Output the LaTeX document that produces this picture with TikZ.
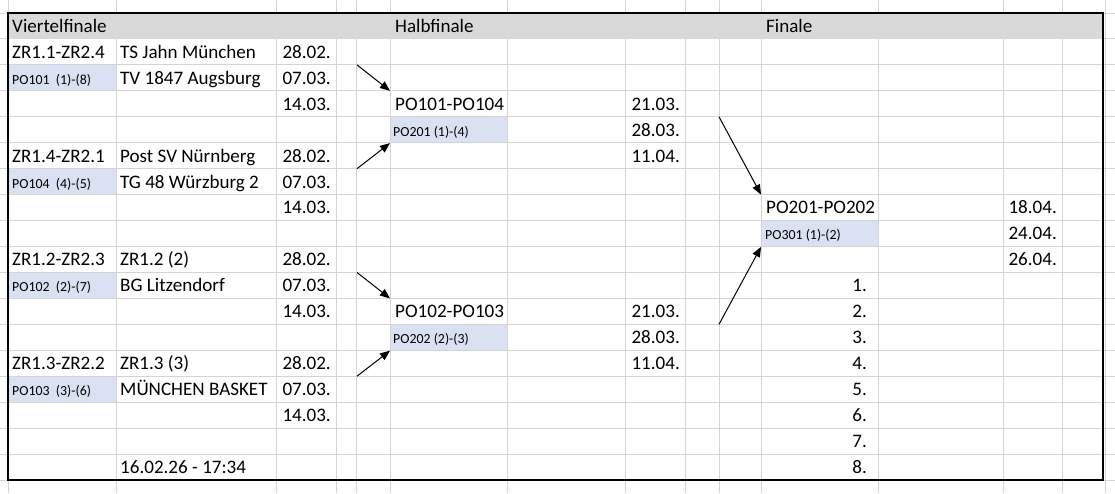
\documentclass[tikz,border=0pt]{standalone}
\usepackage{fontspec}
\setmainfont{Carlito}
\usetikzlibrary{arrows.meta}
\definecolor{gridc}{RGB}{212,212,212}
\definecolor{headc}{RGB}{217,217,217}
\definecolor{bluec}{RGB}{217,225,242}
\newcommand\rtop[1]{13+25.944*(#1)}
\newcommand\rbase[1]{13+25.944*(#1+1)-6.6}
\tikzset{
  gridline/.style={draw=gridc, line width=1pt},
  txt/.style={anchor=base west, inner sep=0pt, font=\fontsize{19.07}{22}\selectfont},
  smalltxt/.style={anchor=base west, inner sep=0pt, font=\fontsize{13.87}{16}\selectfont},
  datetxt/.style={anchor=base east, inner sep=0pt, font=\fontsize{19.07}{22}\selectfont},
  blk/.style={draw=none, inner sep=0pt, anchor=north west},
  link/.style={draw=black, line width=1pt, -{Triangle[length=10pt,width=8pt]}},
}
\begin{document}
\begin{tikzpicture}[x=1pt,y=-1pt]
\useasboundingbox (0,0) rectangle (1115,493);
\fill[white] (0,0) rectangle (1115,493);
% blue cells
\foreach \k in {2,6,10,14}{\fill[bluec] (8,{\rtop{\k}}) rectangle (116,{\rtop{\k+1}});}
\foreach \k in {4,12}{\fill[bluec] (390,{\rtop{\k}}) rectangle (507,{\rtop{\k+1}});}
\fill[bluec] (761,{\rtop{8}}) rectangle (878,{\rtop{9}});
% gridlines
\foreach \x in {8,116,276,336,356,390,507,625,685,719,761,878,1003,1062,1105}{\draw[gridline] (\x,0) -- (\x,493);}
\foreach \k in {0,...,18}{\draw[gridline] (0,{\rtop{\k}}) -- (1115,{\rtop{\k}});}
% header
\fill[headc] (8,13) rectangle (1103,{\rtop{1}});
% border
\draw[black, line width=2.2pt] (8,13) rectangle (1103,480);
% header texts
\node[txt] (hv) at (12,{\rbase{0}}) {Viertelfinale};
\node[txt] (hh) at (395,{\rbase{0}}) {Halbfinale};
\node[txt] (hf) at (766,{\rbase{0}}) {Finale};
% quarterfinals
\node[txt] (a1) at (12,{\rbase{1}}) {ZR1.1-ZR2.4};
\node[txt] (b1) at (120,{\rbase{1}}) {TS Jahn München};
\node[datetxt] (c1) at (331,{\rbase{1}}) {28.02.};
\node[smalltxt] (a2) at (12,{\rbase{2}}) {PO101\ \ (1)-(8)};
\node[txt] (b2) at (120,{\rbase{2}}) {TV 1847 Augsburg};
\node[datetxt] (c2) at (331,{\rbase{2}}) {07.03.};
\node[datetxt] (c3) at (331,{\rbase{3}}) {14.03.};
\node[txt] (a5) at (12,{\rbase{5}}) {ZR1.4-ZR2.1};
\node[txt] (b5) at (120,{\rbase{5}}) {Post SV Nürnberg};
\node[datetxt] (c5) at (331,{\rbase{5}}) {28.02.};
\node[smalltxt] (a6) at (12,{\rbase{6}}) {PO104\ \ (4)-(5)};
\node[txt] (b6) at (120,{\rbase{6}}) {TG 48 Würzburg 2};
\node[datetxt] (c6) at (331,{\rbase{6}}) {07.03.};
\node[datetxt] (c7) at (331,{\rbase{7}}) {14.03.};
\node[txt] (a9) at (12,{\rbase{9}}) {ZR1.2-ZR2.3};
\node[txt] (b9) at (120,{\rbase{9}}) {ZR1.2 (2)};
\node[datetxt] (c9) at (331,{\rbase{9}}) {28.02.};
\node[smalltxt] (a10) at (12,{\rbase{10}}) {PO102\ \ (2)-(7)};
\node[txt] (b10) at (120,{\rbase{10}}) {BG Litzendorf};
\node[datetxt] (c10) at (331,{\rbase{10}}) {07.03.};
\node[datetxt] (c11) at (331,{\rbase{11}}) {14.03.};
\node[txt] (a13) at (12,{\rbase{13}}) {ZR1.3-ZR2.2};
\node[txt] (b13) at (120,{\rbase{13}}) {ZR1.3 (3)};
\node[datetxt] (c13) at (331,{\rbase{13}}) {28.02.};
\node[smalltxt] (a14) at (12,{\rbase{14}}) {PO103\ \ (3)-(6)};
\node[txt] (b14) at (120,{\rbase{14}}) {MÜNCHEN BASKET};
\node[datetxt] (c14) at (331,{\rbase{14}}) {07.03.};
\node[datetxt] (c15) at (331,{\rbase{15}}) {14.03.};
\node[txt] (b17) at (120,{\rbase{17}}) {16.02.26 - 17:34};
% semifinals
\node[txt] (h3) at (395,{\rbase{3}}) {PO101-PO104};
\node[smalltxt] (h4) at (393,{\rbase{4}}) {PO201 (1)-(4)};
\node[datetxt] (hd3) at (680,{\rbase{3}}) {21.03.};
\node[datetxt] (hd4) at (680,{\rbase{4}}) {28.03.};
\node[datetxt] (hd5) at (680,{\rbase{5}}) {11.04.};
\node[txt] (h11) at (395,{\rbase{11}}) {PO102-PO103};
\node[smalltxt] (h12) at (393,{\rbase{12}}) {PO202 (2)-(3)};
\node[datetxt] (hd11) at (680,{\rbase{11}}) {21.03.};
\node[datetxt] (hd12) at (680,{\rbase{12}}) {28.03.};
\node[datetxt] (hd13) at (680,{\rbase{13}}) {11.04.};
% final
\node[txt] (f7) at (766,{\rbase{7}}) {PO201-PO202};
\node[smalltxt] (f8) at (765,{\rbase{8}}) {PO301 (1)-(2)};
\node[datetxt] (fd7) at (1057,{\rbase{7}}) {18.04.};
\node[datetxt] (fd8) at (1057,{\rbase{8}}) {24.04.};
\node[datetxt] (fd9) at (1057,{\rbase{9}}) {26.04.};
\foreach \i [count=\n from 1] in {10,...,17}{
  \node[datetxt] (r\n) at (867,{\rbase{\i}}) {\n.};
}
% match blocks
\node[blk, minimum width=117pt, minimum height=51.888pt] (hb1) at (390,{\rtop{3}}) {};
\node[blk, minimum width=117pt, minimum height=51.888pt] (hb2) at (390,{\rtop{11}}) {};
\node[blk, minimum width=117pt, minimum height=51.888pt] (fb) at (761,{\rtop{7}}) {};
\coordinate (q1) at (357,{\rtop{2}});
\coordinate (q2) at (357,{\rtop{6}});
\coordinate (q3) at (357,{\rtop{10}});
\coordinate (q4) at (357,{\rtop{14}});
\coordinate (s1) at (719,{\rtop{4}});
\coordinate (s2) at (719,{\rtop{12}});
% arrows
\draw[link] (q1) -- (hb1.north west);
\draw[link] (q2) -- (hb1.south west);
\draw[link] (q3) -- (hb2.north west);
\draw[link] (q4) -- (hb2.south west);
\draw[link] (s1) -- (fb.north west);
\draw[link] (s2) -- (fb.south west);
\end{tikzpicture}
\end{document}
